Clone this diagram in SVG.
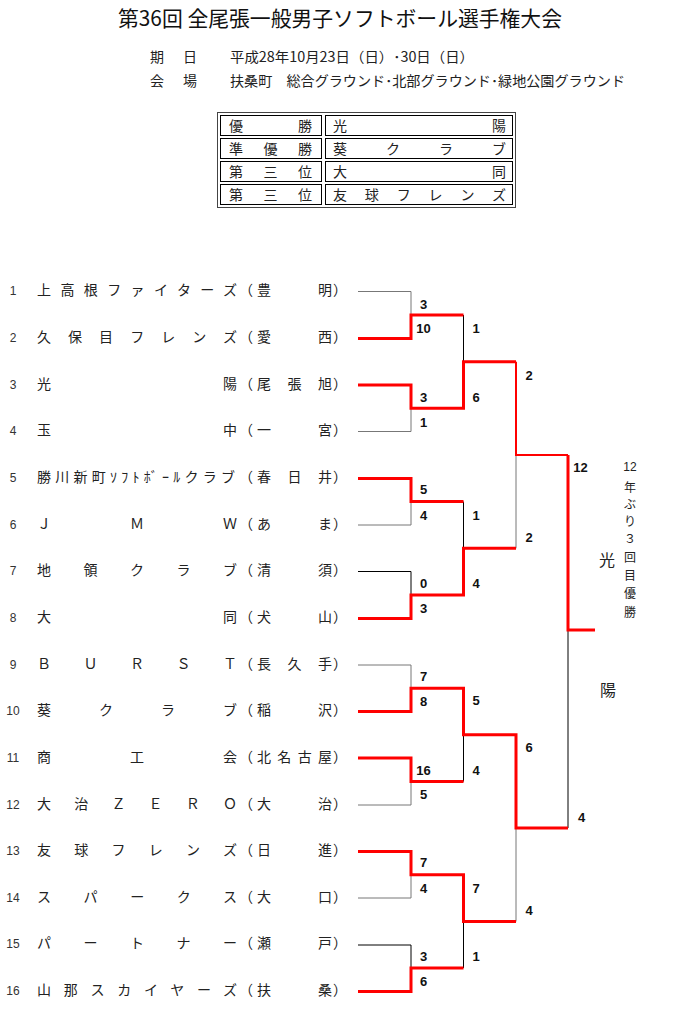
<svg xmlns="http://www.w3.org/2000/svg" width="700" height="1015" viewBox="0 0 700 1015">
<style>
text{font-family:"Noto Sans CJK JP","Liberation Sans",sans-serif}
.t{font-size:21px;fill:#111}
.jp{font-size:14px;fill:#222}
.num{font-family:"Liberation Sans",sans-serif;font-size:12px;fill:#333;text-anchor:middle}
.sc{font-family:"Liberation Sans",sans-serif;font-weight:bold;font-size:13px;fill:#111;text-anchor:middle}
.big{font-size:16px;fill:#222;text-anchor:middle}
.vt{font-size:12px;fill:#222;text-anchor:middle}
.win{fill:none;stroke:#ff0000;stroke-width:3;stroke-linejoin:miter}
.win2{fill:none;stroke:#ff0000;stroke-width:2;stroke-linejoin:miter}
.lg{fill:none;stroke:#777;stroke-width:1}
.lb{fill:none;stroke:#000;stroke-width:1}
.cell{fill:none;stroke:#000;stroke-width:1}
.outer{fill:none;stroke:#444;stroke-width:1}
</style>

<g id="title"><text class="t" x="118" y="26" textLength="444" lengthAdjust="spacingAndGlyphs">第36回 全尾張一般男子ソフトボール選手権大会</text></g>

<g id="info">
<text class="jp" x="150" y="62">期</text><text class="jp" x="183" y="62">日</text>
<text class="jp" x="230" y="62" textLength="244" lengthAdjust="spacingAndGlyphs">平成28年10月23日（日）･30日（日）</text>
<text class="jp" x="150" y="86">会</text><text class="jp" x="183" y="86">場</text>
<text class="jp" x="230" y="86" textLength="395" lengthAdjust="spacingAndGlyphs">扶桑町　総合グラウンド･北部グラウンド･緑地公園グラウンド</text>
</g>

<g id="results-table">
<rect class="outer" x="217.5" y="112.5" width="298" height="95"/>
<rect class="cell" x="220.5" y="115.5" width="101" height="20"/>
<rect class="cell" x="325.5" y="115.5" width="187" height="20"/>
<rect class="cell" x="220.5" y="138.5" width="101" height="20"/>
<rect class="cell" x="325.5" y="138.5" width="187" height="20"/>
<rect class="cell" x="220.5" y="161.5" width="101" height="20"/>
<rect class="cell" x="325.5" y="161.5" width="187" height="20"/>
<rect class="cell" x="220.5" y="184.5" width="101" height="20"/>
<rect class="cell" x="325.5" y="184.5" width="187" height="20"/>
<text class="jp" x="229" y="130.5" textLength="83" lengthAdjust="spacing">優勝</text>
<text class="jp" x="333" y="130.5" textLength="173" lengthAdjust="spacing">光陽</text>
<text class="jp" x="229" y="153.5" textLength="83" lengthAdjust="spacing">準優勝</text>
<text class="jp" x="333" y="153.5" textLength="173" lengthAdjust="spacing">葵クラブ</text>
<text class="jp" x="229" y="176.5" textLength="83" lengthAdjust="spacing">第三位</text>
<text class="jp" x="333" y="176.5" textLength="173" lengthAdjust="spacing">大同</text>
<text class="jp" x="229" y="199.5" textLength="83" lengthAdjust="spacing">第三位</text>
<text class="jp" x="333" y="199.5" textLength="173" lengthAdjust="spacing">友球フレンズ</text>
</g>

<g id="team1"><text class="num" x="13" y="295.3">1</text><text class="jp" x="37" y="295.3" textLength="200" lengthAdjust="spacing">上高根ファイターズ</text><text class="jp" x="239" y="295.3">（</text><text class="jp" x="257" y="295.3" textLength="75" lengthAdjust="spacing">豊明</text><text class="jp" x="333" y="295.3">）</text></g>
<g id="team2"><text class="num" x="13" y="342">2</text><text class="jp" x="37" y="342" textLength="200" lengthAdjust="spacing">久保目フレンズ</text><text class="jp" x="239" y="342">（</text><text class="jp" x="257" y="342" textLength="75" lengthAdjust="spacing">愛西</text><text class="jp" x="333" y="342">）</text></g>
<g id="team3"><text class="num" x="13" y="388.6">3</text><text class="jp" x="37" y="388.6" textLength="200" lengthAdjust="spacing">光陽</text><text class="jp" x="239" y="388.6">（</text><text class="jp" x="257" y="388.6" textLength="75" lengthAdjust="spacing">尾張旭</text><text class="jp" x="333" y="388.6">）</text></g>
<g id="team4"><text class="num" x="13" y="435.3">4</text><text class="jp" x="37" y="435.3" textLength="200" lengthAdjust="spacing">玉中</text><text class="jp" x="239" y="435.3">（</text><text class="jp" x="257" y="435.3" textLength="75" lengthAdjust="spacing">一宮</text><text class="jp" x="333" y="435.3">）</text></g>
<g id="team5"><text class="num" x="13" y="481.9">5</text><text class="jp" x="37" y="481.9" textLength="198" lengthAdjust="spacing">勝川新町ｿﾌﾄﾎﾞｰﾙクラブ</text><text class="jp" x="239" y="481.9">（</text><text class="jp" x="257" y="481.9" textLength="75" lengthAdjust="spacing">春日井</text><text class="jp" x="333" y="481.9">）</text></g>
<g id="team6"><text class="num" x="13" y="528.6">6</text><text class="jp" x="37" y="528.6" textLength="200" lengthAdjust="spacing">ＪＭＷ</text><text class="jp" x="239" y="528.6">（</text><text class="jp" x="257" y="528.6" textLength="75" lengthAdjust="spacing">あま</text><text class="jp" x="333" y="528.6">）</text></g>
<g id="team7"><text class="num" x="13" y="575.2">7</text><text class="jp" x="37" y="575.2" textLength="200" lengthAdjust="spacing">地領クラブ</text><text class="jp" x="239" y="575.2">（</text><text class="jp" x="257" y="575.2" textLength="75" lengthAdjust="spacing">清須</text><text class="jp" x="333" y="575.2">）</text></g>
<g id="team8"><text class="num" x="13" y="621.9">8</text><text class="jp" x="37" y="621.9" textLength="200" lengthAdjust="spacing">大同</text><text class="jp" x="239" y="621.9">（</text><text class="jp" x="257" y="621.9" textLength="75" lengthAdjust="spacing">犬山</text><text class="jp" x="333" y="621.9">）</text></g>
<g id="team9"><text class="num" x="13" y="668.5">9</text><text class="jp" x="37" y="668.5" textLength="200" lengthAdjust="spacing">ＢＵＲＳＴ</text><text class="jp" x="239" y="668.5">（</text><text class="jp" x="257" y="668.5" textLength="75" lengthAdjust="spacing">長久手</text><text class="jp" x="333" y="668.5">）</text></g>
<g id="team10"><text class="num" x="13" y="715.2">10</text><text class="jp" x="37" y="715.2" textLength="200" lengthAdjust="spacing">葵クラブ</text><text class="jp" x="239" y="715.2">（</text><text class="jp" x="257" y="715.2" textLength="75" lengthAdjust="spacing">稲沢</text><text class="jp" x="333" y="715.2">）</text></g>
<g id="team11"><text class="num" x="13" y="761.8">11</text><text class="jp" x="37" y="761.8" textLength="200" lengthAdjust="spacing">商工会</text><text class="jp" x="239" y="761.8">（</text><text class="jp" x="257" y="761.8" textLength="75" lengthAdjust="spacing">北名古屋</text><text class="jp" x="333" y="761.8">）</text></g>
<g id="team12"><text class="num" x="13" y="808.5">12</text><text class="jp" x="37" y="808.5" textLength="200" lengthAdjust="spacing">大治ＺＥＲＯ</text><text class="jp" x="239" y="808.5">（</text><text class="jp" x="257" y="808.5" textLength="75" lengthAdjust="spacing">大治</text><text class="jp" x="333" y="808.5">）</text></g>
<g id="team13"><text class="num" x="13" y="855.1">13</text><text class="jp" x="37" y="855.1" textLength="200" lengthAdjust="spacing">友球フレンズ</text><text class="jp" x="239" y="855.1">（</text><text class="jp" x="257" y="855.1" textLength="75" lengthAdjust="spacing">日進</text><text class="jp" x="333" y="855.1">）</text></g>
<g id="team14"><text class="num" x="13" y="901.8">14</text><text class="jp" x="37" y="901.8" textLength="200" lengthAdjust="spacing">スパークス</text><text class="jp" x="239" y="901.8">（</text><text class="jp" x="257" y="901.8" textLength="75" lengthAdjust="spacing">大口</text><text class="jp" x="333" y="901.8">）</text></g>
<g id="team15"><text class="num" x="13" y="948.4">15</text><text class="jp" x="37" y="948.4" textLength="200" lengthAdjust="spacing">パートナー</text><text class="jp" x="239" y="948.4">（</text><text class="jp" x="257" y="948.4" textLength="75" lengthAdjust="spacing">瀬戸</text><text class="jp" x="333" y="948.4">）</text></g>
<g id="team16"><text class="num" x="13" y="995.1">16</text><text class="jp" x="37" y="995.1" textLength="200" lengthAdjust="spacing">山那スカイヤーズ</text><text class="jp" x="239" y="995.1">（</text><text class="jp" x="257" y="995.1" textLength="75" lengthAdjust="spacing">扶桑</text><text class="jp" x="333" y="995.1">）</text></g>

<g id="connectors">
<polyline class="lg" points="358,291.5 411,291.5 411,315"/>
<polyline class="lg" points="358,431.5 411,431.5 411,408.3"/>
<polyline class="lg" points="358,525 411,525 411,501.6"/>
<polyline class="lb" points="358,571.5 411,571.5 411,595"/>
<polyline class="lg" points="358,665 411,665 411,688.2"/>
<polyline class="lg" points="358,805 411,805 411,781.5"/>
<polyline class="lg" points="358,898 411,898 411,874.8"/>
<polyline class="lb" points="358,945 411,945 411,968.1"/>
<line class="lb" x1="463.5" y1="315" x2="463.5" y2="361.7"/>
<line class="lb" x1="463.5" y1="501.6" x2="463.5" y2="548.3"/>
<line class="lb" x1="463.5" y1="781.5" x2="463.5" y2="734.8"/>
<line class="lb" x1="463.5" y1="968.1" x2="463.5" y2="921.5"/>
<line class="lg" x1="516" y1="548.3" x2="516" y2="455"/>
<line class="lg" x1="516" y1="921.5" x2="516" y2="828"/>
<line class="lb" x1="568" y1="828" x2="568" y2="630"/>

<polyline class="win" points="358,338.5 411,338.5 411,315 463.5,315"/>
<polyline class="win" points="358,385 411,385 411,408.3 463.5,408.3 463.5,361.7 516,361.7"/>
<polyline class="win2" points="516,361.7 516,455 568,455"/>
<polyline class="win" points="568,455 568,630 595,630"/>
<polyline class="win" points="358,478.5 411,478.5 411,501.6 463.5,501.6"/>
<polyline class="win" points="358,618.5 411,618.5 411,595 463.5,595 463.5,548.3 516,548.3"/>
<polyline class="win" points="358,711.5 411,711.5 411,688.2 463.5,688.2 463.5,734.8 516,734.8 516,828 568,828"/>
<polyline class="win" points="358,758 411,758 411,781.5 463.5,781.5"/>
<polyline class="win" points="358,851.5 411,851.5 411,874.8 463.5,874.8 463.5,921.5 516,921.5"/>
<polyline class="win" points="358,991.5 411,991.5 411,968.1 463.5,968.1"/>
</g>

<g id="scores">
<text class="sc" x="423.5" y="308.7">3</text><text class="sc" x="423.5" y="332.7">10</text>
<text class="sc" x="423.5" y="401.7">3</text><text class="sc" x="423.5" y="426.7">1</text>
<text class="sc" x="423.5" y="493.7">5</text><text class="sc" x="423.5" y="519.7">4</text>
<text class="sc" x="423.5" y="587.7">0</text><text class="sc" x="423.5" y="612.7">3</text>
<text class="sc" x="423.5" y="680.7">7</text><text class="sc" x="423.5" y="705.7">8</text>
<text class="sc" x="423.5" y="774.7">16</text><text class="sc" x="423.5" y="798.7">5</text>
<text class="sc" x="423.5" y="867.4">7</text><text class="sc" x="423.5" y="892.7">4</text>
<text class="sc" x="423.5" y="960.7">3</text><text class="sc" x="423.5" y="985.7">6</text>
<text class="sc" x="476" y="332.7">1</text><text class="sc" x="476" y="401.7">6</text>
<text class="sc" x="476" y="519.7">1</text><text class="sc" x="476" y="587.7">4</text>
<text class="sc" x="476" y="704.7">5</text><text class="sc" x="476" y="774.7">4</text>
<text class="sc" x="476" y="892.7">7</text><text class="sc" x="476" y="960.7">1</text>
<text class="sc" x="529" y="379.7">2</text><text class="sc" x="529" y="541.7">2</text>
<text class="sc" x="529" y="751.7">6</text><text class="sc" x="529" y="914.7">4</text>
<text class="sc" x="580.5" y="471.7">12</text><text class="sc" x="581.5" y="821.7">4</text>
</g>

<g id="champion">
<text class="big" x="607" y="566">光</text>
<text class="big" x="608" y="696">陽</text>
<text class="vt" x="630" y="471.3" style="font-family:'Liberation Sans',sans-serif">12</text>
<text class="vt"><tspan x="630" y="492">年</tspan><tspan x="630" y="509">ぶ</tspan><tspan x="630" y="526">り</tspan><tspan x="630" y="543">３</tspan><tspan x="630" y="562">回</tspan><tspan x="630" y="580">目</tspan><tspan x="630" y="598">優</tspan><tspan x="630" y="617">勝</tspan></text>
</g>
</svg>
